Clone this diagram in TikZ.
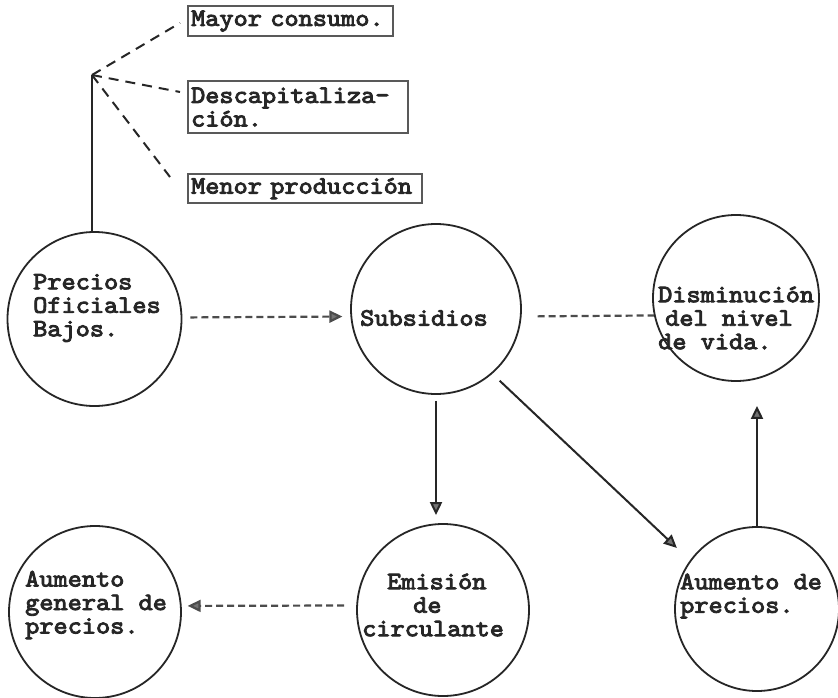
\documentclass[tikz,border=0pt]{standalone}
\usepackage{fontspec}
\newfontfamily\tw[FakeBold=3.5,FakeStretch=1.08]{lmmono10-regular.otf}
\usetikzlibrary{arrows.meta}
\begin{document}
\begin{tikzpicture}[x=1pt,y=-1pt,
  typed/.style={font=\tw\fontsize{25pt}{23.5pt}\selectfont, text=black!85},
  circ/.style={circle, draw=black!85, line width=1.8pt, minimum size=#1, inner sep=0pt},
  txt/.style={typed, align=left, inner sep=0pt, anchor=west},
  box/.style={typed, draw=black!65, line width=2.2pt, anchor=north west, inner xsep=3pt, inner ysep=0pt, align=left},
  dashln/.style={line width=2.2pt, draw=black!70, dash pattern=on 7pt off 4pt},
  fanln/.style={line width=2pt, draw=black!85, dash pattern=on 10pt off 7pt},
  solidln/.style={line width=2pt, draw=black!85},
  tri/.style={-{Triangle[length=13pt,width=12pt,fill=black!55]}}
]
\useasboundingbox (0,0) rectangle (838,698);
\fill[white] (0,0) rectangle (838,698);

% circles
\node[circ=174pt] (P) at (94.5,319) {};
\node[circ=170pt] (S) at (436,309) {};
\node[circ=166pt] (D) at (736,298) {};
\node[circ=172pt] (A) at (95,612) {};
\node[circ=172pt] (E) at (443,610) {};
\node[circ=164pt] (R) at (757,609) {};

% circle texts
\node[txt] (tP) at (33,308) {Precios\\Oficiales\\Bajos.};
\node[txt] (tS) at (360,318) {Subsidios};
\node[txt] (tD) at (658,318) {Disminución\\\hspace{7pt}del nivel\\de vida.};
\node[txt] (tA) at (25,605) {Aumento\\general de\\precios.};
\node[txt] (tE) at (362,605) {\hspace{25pt}Emisión\\\hspace{51pt}de\\circulante};
\node[txt] (tR) at (680,596) {Aumento de\\precios.};

% boxes
\node[box, minimum width=205pt, minimum height=30pt, text width=199pt] (M1) at (187,5) {Mayor consumo.};
\node[box, minimum width=220pt, minimum height=52pt, text width=214pt] (M2) at (187,80) {Descapitaliza-\\ción.};
\node[box, minimum width=234pt, minimum height=29pt, text width=228pt] (M3) at (187,173) {Menor producción};

% fan
\coordinate (F) at (92,75);
\coordinate (e1) at (180,23);
\coordinate (e2) at (180,92);
\coordinate (e3) at (170,177);
\draw[fanln] (F) -- (e1);
\draw[fanln] (F) -- (e2);
\draw[fanln] (F) -- (e3);
\draw[solidln] (F) -- (F |- P.north);

% connectors
\draw[dashln, tri, shorten <=8pt, shorten >=8pt] (P.1) -- (S.185);
\draw[dashln, shorten <=16pt] (S.-5) -- (D.192);
\draw[solidln, tri, shorten <=6pt, shorten >=8pt] (S.south) -- (S.south |- E.north);
\draw[solidln, tri, shorten <=10pt, shorten >=18pt] (S.-49) -- (R.144);
\draw[solidln, tri, shorten >=24pt] (R.north) -- (R.north |- D.south);
\draw[dashln, tri, shorten <=12pt, shorten >=6pt] (E.177) -- (A.4);
\end{tikzpicture}
\end{document}
